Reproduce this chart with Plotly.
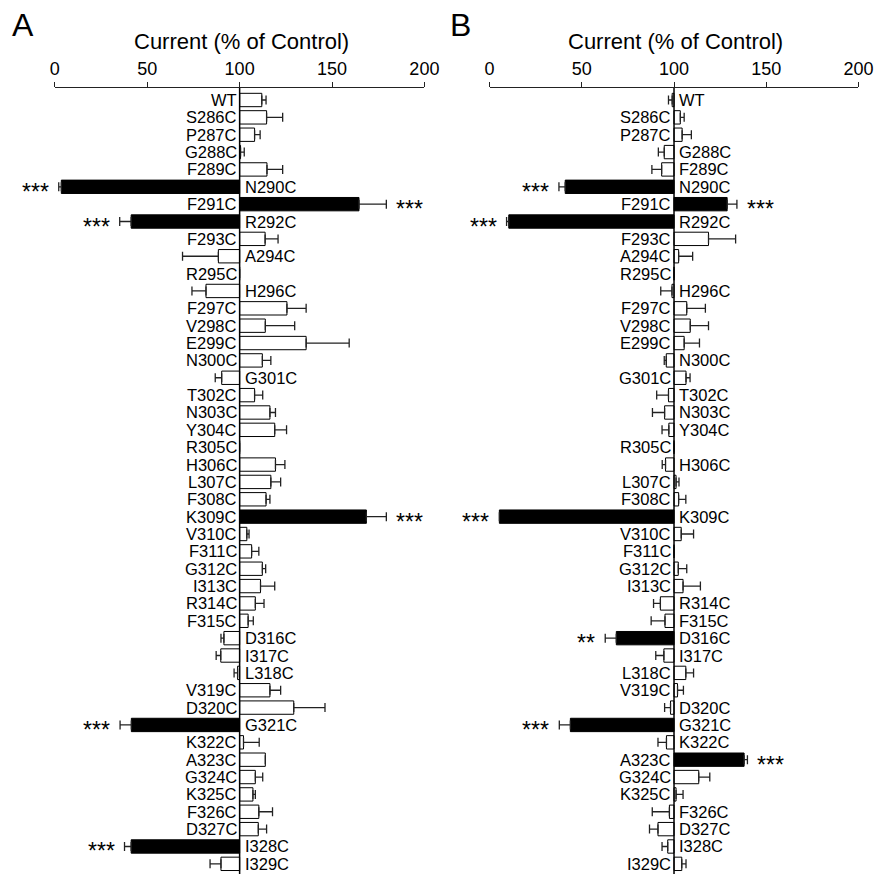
import plotly.graph_objects as go

labels = ["WT", "S286C", "P287C", "G288C", "F289C", "N290C", "F291C", "R292C", "F293C",
          "A294C", "R295C", "H296C", "F297C", "V298C", "E299C", "N300C", "G301C", "T302C",
          "N303C", "Y304C", "R305C", "H306C", "L307C", "F308C", "K309C", "V310C", "F311C",
          "G312C", "I313C", "R314C", "F315C", "D316C", "I317C", "L318C", "V319C", "D320C",
          "G321C", "K322C", "A323C", "G324C", "K325C", "F326C", "D327C", "I328C", "I329C"]

a_vals = [112, 114.6, 108.1, 100.5, 114.8, 3.5, 164.6, 41.3, 113.8,
          88.5, 100, 81.8, 125.6, 113.9, 136, 112.3, 90.3, 108.1,
          116.4, 119, 100, 119.4, 116.9, 114.3, 168.6, 103.9, 106.5,
          112.3, 111.3, 108.5, 104.6, 91.5, 89.8, 98.9, 116.4, 129.3,
          41.4, 102.1, 113.9, 108.5, 107.2, 110.4, 110.1, 41.3, 89.9]
a_errs = [2.3, 8.7, 3, 2, 8.5, 1.4, 14.8, 6.2, 7,
          19.4, 0, 7.6, 10.4, 15.9, 23.3, 4.6, 3.5, 4.4,
          3, 6.4, 0, 5.1, 5.3, 2.1, 10.8, 1.2, 3.9,
          1.8, 7.7, 4.7, 2.8, 1.6, 2.5, 1.9, 5.8, 16.9,
          6.1, 8.5, 0, 4, 1.3, 7.4, 4.5, 3.6, 5.9]
a_sig = ["", "", "", "", "", "***", "***", "***", "",
         "", "", "", "", "", "", "", "", "",
         "", "", "", "", "", "", "***", "", "",
         "", "", "", "", "", "", "", "", "",
         "***", "", "", "", "", "", "", "***", ""]

b_vals = [99, 103.4, 104.4, 94.7, 93.3, 41, 128.8, 10.4, 118.7,
          102.5, 100, 98.9, 106.9, 108.8, 105.5, 95.8, 106.5, 97,
          94.9, 97.2, 100, 95.4, 101.1, 102.5, 5.3, 103.9, 100,
          102.3, 104.9, 92.6, 95.1, 68.7, 94.5, 106.4, 101.9, 98.1,
          43.8, 95.9, 138, 113.4, 101.1, 97.5, 91.3, 96.6, 104.2]
b_errs = [2, 2.1, 5, 3.2, 5.3, 3.4, 5.3, 1.2, 14.7,
          7.6, 0, 6.1, 10.1, 9.9, 8.3, 1.1, 2.2, 6.4,
          6.6, 3.7, 0, 1.8, 1.6, 3.9, 0, 6.7, 0,
          4.6, 9.4, 3.7, 7.5, 6, 4.4, 4.2, 3.2, 3.2,
          6, 4.6, 1.8, 6, 3.8, 9.3, 4.6, 3.1, 2.3]
b_sig = ["", "", "", "", "", "***", "***", "***", "",
         "", "", "", "", "", "", "", "", "",
         "", "", "", "", "", "", "***", "", "",
         "", "", "", "", "**", "", "", "", "",
         "***", "", "***", "", "", "", "", "", ""]

panel_letters = ["A", "B"]
axis_title = "Current (% of Control)"
tick_vals = [0, 50, 100, 150, 200]

FONT = "Arial, Liberation Sans, sans-serif"
W, H = 893, 874
top_px = 88
row0_px = 100.0
row_px = 17.36
y_top = (top_px - row0_px) / row_px
y_bot = (H - row0_px) / row_px
ydom_top = 1 - top_px / H

x_domains = [[51 / W, 429 / W], [495.7 / W, 873 / W]]

fig = go.Figure()
annotations = []
shapes = []
idx = list(range(len(labels)))

LAB = dict(size=16.5, family=FONT, color="black")
AST = dict(size=23, family=FONT, color="black")

panels = [(a_vals, a_errs, a_sig), (b_vals, b_errs, b_sig)]
for p, (vals, errs, sig) in enumerate(panels):
    xa = "x" if p == 0 else "x2"
    ya = "y" if p == 0 else "y2"
    colors = ["black" if s else "white" for s in sig]
    fig.add_trace(go.Bar(
        orientation="h", y=idx, x=[v - 100 for v in vals], base=100,
        width=0.77, marker=dict(color=colors, line=dict(color="black", width=1)),
        xaxis=xa, yaxis=ya, hoverinfo="skip"))
    plus = [e if v >= 100 else 0 for v, e in zip(vals, errs)]
    minus = [e if v < 100 else 0 for v, e in zip(vals, errs)]
    fig.add_trace(go.Scatter(
        x=vals, y=idx, mode="markers", marker=dict(size=0.1, color="rgba(0,0,0,0)"),
        error_x=dict(type="data", symmetric=False, array=plus, arrayminus=minus,
                     color="#222", thickness=1.3, width=4.5),
        xaxis=xa, yaxis=ya, hoverinfo="skip"))
    xref = xa
    for i, (lab, v, e, s) in enumerate(zip(labels, vals, errs, sig)):
        if v >= 100:
            annotations.append(dict(x=100, y=i, xref=xref, yref=ya, text=lab, showarrow=False,
                                    xanchor="right", xshift=-1, font=LAB))
        else:
            annotations.append(dict(x=100, y=i, xref=xref, yref=ya, text=lab, showarrow=False,
                                    xanchor="left", xshift=3, font=LAB))
        if s:
            if v >= 100:
                annotations.append(dict(x=v + e, y=i, xref=xref, yref=ya, text=s, showarrow=False,
                                        xanchor="left", xshift=8, yshift=-5, font=AST))
            else:
                annotations.append(dict(x=v - e, y=i, xref=xref, yref=ya, text=s, showarrow=False,
                                        xanchor="right", xshift=-8, yshift=-5, font=AST))
    shapes.append(dict(type="line", xref=xref, yref="paper", x0=100, x1=100, y0=0, y1=ydom_top,
                       line=dict(color="black", width=1.5)))
    cx = (x_domains[p][0] + x_domains[p][1]) / 2
    annotations.append(dict(x=cx + 2 / W, y=1 - 42 / H, xref="paper", yref="paper", text=axis_title,
                            showarrow=False, xanchor="center", yanchor="middle",
                            font=dict(size=22, family=FONT, color="black")))
    annotations.append(dict(x=(5 if p == 0 else 453) / W, y=1 - 25 / H, xref="paper", yref="paper",
                            text=panel_letters[p], showarrow=False, xanchor="left", yanchor="middle",
                            font=dict(size=32, family=FONT, color="black")))

axis_common = dict(side="top", range=[0, 200], tickvals=tick_vals, ticks="outside", ticklen=5,
                   tickwidth=1.3, tickcolor="#222", showline=True, linewidth=1.3, linecolor="#222",
                   showgrid=False, zeroline=False, fixedrange=True,
                   tickfont=dict(size=18, family=FONT, color="black"))
yaxis_common = dict(range=[y_bot, y_top], domain=[0, ydom_top], visible=False, fixedrange=True)

fig.update_layout(
    width=W, height=H, margin=dict(l=0, r=0, t=0, b=0),
    paper_bgcolor="white", plot_bgcolor="white", showlegend=False, barmode="overlay",
    xaxis=dict(domain=x_domains[0], anchor="y", **axis_common),
    xaxis2=dict(domain=x_domains[1], anchor="y2", **axis_common),
    yaxis=dict(anchor="x", **yaxis_common),
    yaxis2=dict(anchor="x2", **yaxis_common),
    annotations=annotations, shapes=shapes,
)

fig.write_html("out.html")
